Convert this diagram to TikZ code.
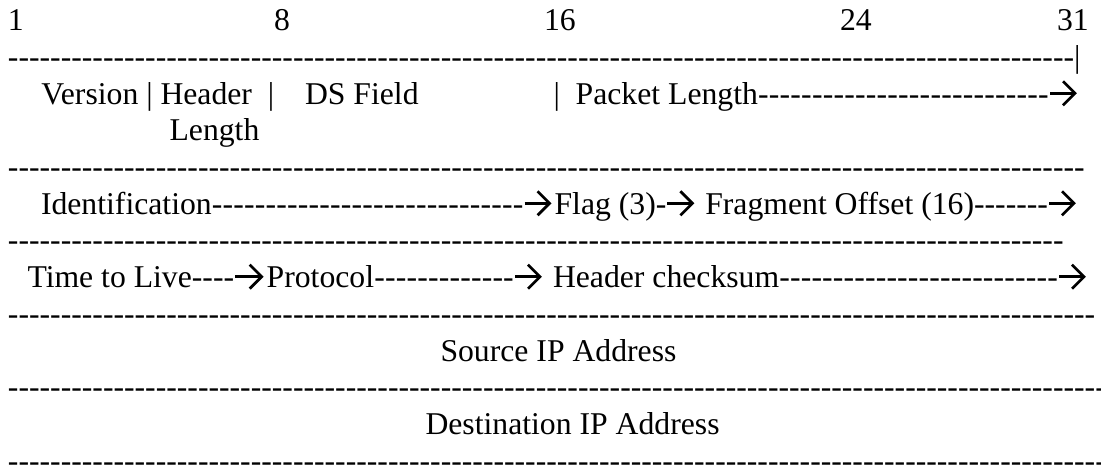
\documentclass[tikz,border=0pt]{standalone}
\usepackage{fontspec}
\newfontfamily\tnr{Liberation Serif}
\usetikzlibrary{calc}
\ExplSyntaxOn
\NewDocumentCommand\hyrun{m}{\prg_replicate:nn{#1}{\mbox{-}}}
\ExplSyntaxOff
\newcommand\lead[2]{\hbox to #1pt{#2\xleaders\hbox{-}\hfill}}
\newcommand\wingarrow[2]{%
  \draw[warr] (#1) -- (#2);
  \draw[warr] ($(#2)+(-12,-12)$) -- (#2) -- ($(#2)+(-12,12)$);}
\begin{document}
\begin{tikzpicture}[x=1pt,y=-1pt,
  txt/.style={anchor=base west,inner sep=0pt,outer sep=0pt,
    font=\tnr\fontsize{31.7}{36.67}\selectfont},
  warr/.style={line width=2.7pt,line cap=butt,line join=miter}]
\useasboundingbox[fill=white] (0,0) rectangle (1101,465);
% bit numbers
\node[txt] (b1)  at (8,31)    {1};
\node[txt] (b8)  at (274,31)  {8};
\node[txt] (b16) at (544,31)  {16};
\node[txt] (b24) at (840,31)  {24};
\node[txt] (b31) at (1057,31) {31};
% separator 1
\node[txt] (s1) at (8,67.7) {\hyrun{101}|};
% row: version etc.
\node[txt] (ver) at (41.5,104.3) {Version | Header\ \ |};
\node[txt] (ds)  at (305,104.3)  {DS Field};
\node[txt] (pl)  at (553.5,104.3) {\lead{495.5}{|\ \ Packet Length}};
\node[txt] (len) at (169.6,141) {Length};
% separator 2
\node[txt] (s2) at (8,177.7) {\hyrun{102}};
% row: identification
\node[txt] (id) at (41,214.3) {\lead{482.6}{Identification}};
\node[txt] (fl) at (554.6,214.3) {Flag (3)-};
\node[txt] (fr) at (705.3,214.3) {Fragment Offset (16)\hyrun{7}};
% separator 3
\node[txt] (s3) at (8,251) {\hyrun{100}};
% row: ttl
\node[txt] (tl) at (27.5,287.7) {Time to Live\hyrun{4}};
\node[txt] (pr) at (266.7,287.7) {\lead{247.3}{Protocol}};
\node[txt] (hc) at (553,287.7) {\lead{505}{Header checksum}};
% separator 4
\node[txt] (s4) at (8,324.3) {\hyrun{103}};
\node[txt] (src) at (440.5,361) {Source IP Address};
\node[txt] (s5) at (8,397.7) {\hyrun{104}};
\node[txt] (dst) at (425.5,434.3) {Destination IP Address};
\node[txt] (s6) at (8,471) {\hyrun{104}};
% arrows
\coordinate (a1s) at ($(pl.base east)+(1,-11)$);
\coordinate (a1e) at ($(pl.base east)+(26,-11)$);
\wingarrow{a1s}{a1e}
\coordinate (a2s) at ($(id.base east)+(1,-11)$);
\coordinate (a2e) at ($(fl.base west)+(-5,-11)$);
\wingarrow{a2s}{a2e}
\coordinate (a3s) at ($(fl.base east)+(1,-11)$);
\coordinate (a3e) at ($(fl.base east)+(26,-11)$);
\wingarrow{a3s}{a3e}
\coordinate (a4s) at ($(fr.base east)+(1,-11)$);
\coordinate (a4e) at ($(fr.base east)+(26,-11)$);
\wingarrow{a4s}{a4e}
\coordinate (a5s) at ($(tl.base east)+(1,-11)$);
\coordinate (a5e) at ($(pr.base west)+(-5,-11)$);
\wingarrow{a5s}{a5e}
\coordinate (a6s) at ($(pr.base east)+(1,-11)$);
\coordinate (a6e) at ($(pr.base east)+(26,-11)$);
\wingarrow{a6s}{a6e}
\coordinate (a7s) at ($(hc.base east)+(1,-11)$);
\coordinate (a7e) at ($(hc.base east)+(26,-11)$);
\wingarrow{a7s}{a7e}
\end{tikzpicture}
\end{document}
